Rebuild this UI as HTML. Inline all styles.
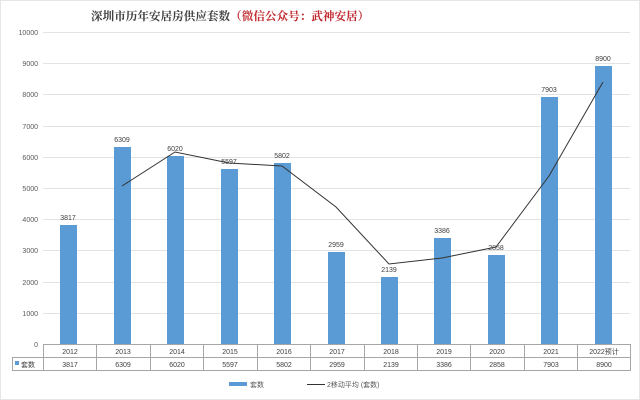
<!DOCTYPE html>
<html><head><meta charset="utf-8"><style>
body{margin:0;background:#fff}
svg{display:block;font-family:"Liberation Sans","Noto Sans CJK SC",sans-serif}
</style></head><body>
<svg width="640" height="400" viewBox="0 0 640 400">
<rect x="0.5" y="0.5" width="639" height="399" fill="#fff" stroke="#e6e6e6"/>
<text x="91" y="20" font-size="11.6" font-weight="bold" fill="#404040" font-family="'Liberation Serif','Noto Serif CJK SC',serif">深圳市历年安居房供应套数<tspan fill="#c0272d">（微信公众号：武神安居）</tspan></text>
<g stroke="#e3e3e3" stroke-width="1">
<line x1="43" x2="630" y1="32.5" y2="32.5"/><line x1="43" x2="630" y1="63.5" y2="63.5"/>
<line x1="43" x2="630" y1="94.5" y2="94.5"/><line x1="43" x2="630" y1="126.5" y2="126.5"/>
<line x1="43" x2="630" y1="157.5" y2="157.5"/><line x1="43" x2="630" y1="188.5" y2="188.5"/>
<line x1="43" x2="630" y1="219.5" y2="219.5"/><line x1="43" x2="630" y1="250.5" y2="250.5"/>
<line x1="43" x2="630" y1="282.5" y2="282.5"/><line x1="43" x2="630" y1="313.5" y2="313.5"/>
</g>
<g font-size="7" fill="#595959" text-anchor="end">
<text x="38" y="35">10000</text><text x="38" y="66">9000</text><text x="38" y="97">8000</text>
<text x="38" y="129">7000</text><text x="38" y="160">6000</text><text x="38" y="191">5000</text>
<text x="38" y="222">4000</text><text x="38" y="253">3000</text><text x="38" y="285">2000</text>
<text x="38" y="316">1000</text><text x="38" y="347">0</text>
</g>
<g fill="#5b9bd5">
<rect x="60" y="225" width="17" height="119"/>
<rect x="114" y="147" width="17" height="197"/>
<rect x="167" y="156" width="17" height="188"/>
<rect x="221" y="169" width="17" height="175"/>
<rect x="274" y="163" width="17" height="181"/>
<rect x="328" y="252" width="17" height="92"/>
<rect x="381" y="277" width="17" height="67"/>
<rect x="434" y="238" width="17" height="106"/>
<rect x="488" y="255" width="17" height="89"/>
<rect x="541" y="97" width="17" height="247"/>
<rect x="595" y="66" width="17" height="278"/>
</g>
<polyline fill="none" stroke="#333" stroke-width="1" points="122,186 175,152 229,163 282,166 336,207 389,264 442,258 496,247 549,176 603,82"/>
<g font-size="7" fill="#404040" text-anchor="middle">
<text x="68" y="220">3817</text><text x="122" y="142">6309</text><text x="175" y="151">6020</text>
<text x="229" y="164">5597</text><text x="282" y="158">5802</text><text x="336" y="247">2959</text>
<text x="389" y="272">2139</text><text x="442" y="233">3386</text><text x="496" y="250">2858</text>
<text x="549" y="92">7903</text><text x="603" y="61">8900</text>
</g>
<g stroke="#a6a6a6" stroke-width="1" fill="none">
<line x1="43" x2="630" y1="344.5" y2="344.5"/>
<line x1="12" x2="630" y1="357.5" y2="357.5"/>
<line x1="12" x2="630" y1="370.5" y2="370.5"/>
<line x1="12.5" x2="12.5" y1="357" y2="371"/>
<line x1="43.5" x2="43.5" y1="344" y2="371"/>
<line x1="96.5" x2="96.5" y1="344" y2="371"/><line x1="150.5" x2="150.5" y1="344" y2="371"/>
<line x1="203.5" x2="203.5" y1="344" y2="371"/><line x1="257.5" x2="257.5" y1="344" y2="371"/>
<line x1="310.5" x2="310.5" y1="344" y2="371"/><line x1="364.5" x2="364.5" y1="344" y2="371"/>
<line x1="417.5" x2="417.5" y1="344" y2="371"/><line x1="470.5" x2="470.5" y1="344" y2="371"/>
<line x1="524.5" x2="524.5" y1="344" y2="371"/><line x1="577.5" x2="577.5" y1="344" y2="371"/>
<line x1="630.5" x2="630.5" y1="344" y2="371"/>
</g>
<g font-size="7" fill="#404040" text-anchor="middle">
<text x="70" y="354">2012</text><text x="123" y="354">2013</text><text x="177" y="354">2014</text>
<text x="230" y="354">2015</text><text x="284" y="354">2016</text><text x="337" y="354">2017</text>
<text x="391" y="354">2018</text><text x="444" y="354">2019</text><text x="497" y="354">2020</text>
<text x="551" y="354">2021</text><text x="604" y="354">2022预计</text>
<text x="70" y="367">3817</text><text x="123" y="367">6309</text><text x="177" y="367">6020</text>
<text x="230" y="367">5597</text><text x="284" y="367">5802</text><text x="337" y="367">2959</text>
<text x="391" y="367">2139</text><text x="444" y="367">3386</text><text x="497" y="367">2858</text>
<text x="551" y="367">7903</text><text x="604" y="367">8900</text>
</g>
<rect x="15" y="361" width="4" height="4" fill="#5b9bd5"/>
<text x="21" y="367" font-size="7" fill="#404040">套数</text>
<rect x="229" y="382" width="18" height="4" fill="#5b9bd5"/>
<text x="250" y="387" font-size="7" fill="#595959">套数</text>
<line x1="307" x2="325" y1="384.5" y2="384.5" stroke="#333"/>
<text x="327" y="387" font-size="7" fill="#595959">2移动平均 (套数)</text>
</svg>
</body></html>
